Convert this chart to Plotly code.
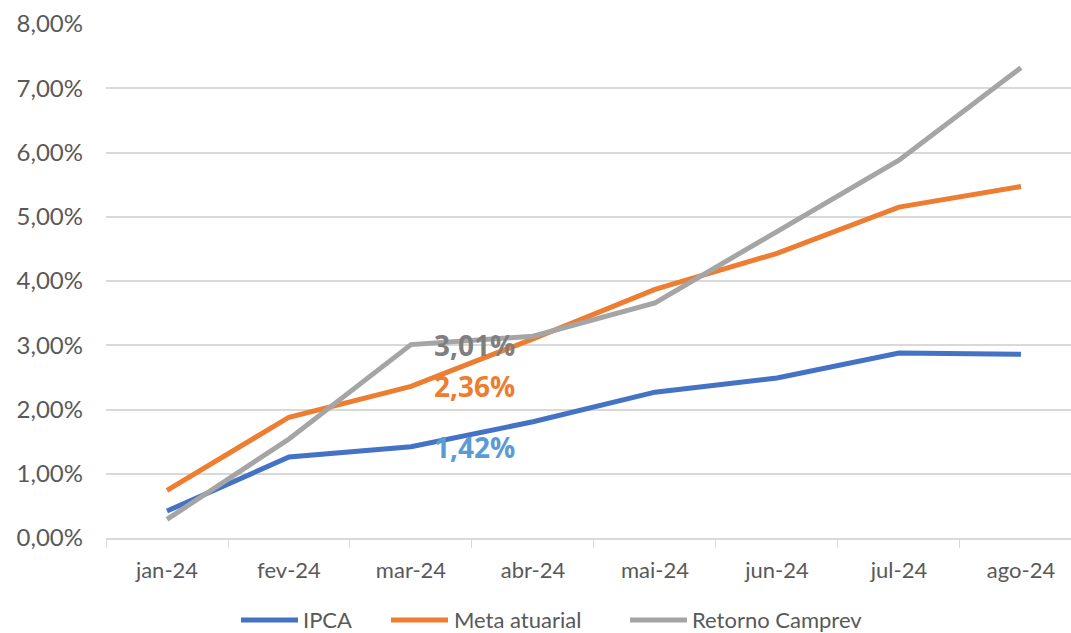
import plotly.graph_objects as go

months = ["jan-24", "fev-24", "mar-24", "abr-24", "mai-24", "jun-24", "jul-24", "ago-24"]
ipca = [0.42, 1.26, 1.42, 1.81, 2.27, 2.49, 2.88, 2.86]
meta = [0.74, 1.88, 2.36, 3.10, 3.87, 4.43, 5.15, 5.47]
retorno = [0.29, 1.54, 3.01, 3.14, 3.66, 4.76, 5.88, 7.32]

series = [
    ("IPCA", ipca, "#4472C4"),
    ("Meta atuarial", meta, "#ED7D31"),
    ("Retorno Camprev", retorno, "#A5A5A5"),
]

FONT = "Lato"
TXT = "#595959"

fig = go.Figure()
for name, vals, color in series:
    fig.add_trace(go.Scatter(
        x=months, y=vals, name=name, mode="lines",
        line=dict(color=color, width=5), showlegend=False,
    ))

labels = [
    (retorno[2], "#7F7F7F"),
    (meta[2], "#ED7D31"),
    (ipca[2], "#5B9BD5"),
]
for val, color in labels:
    fig.add_annotation(
        x=months[2], y=val, text=f"{val:.2f}".replace(".", ",") + "%",
        showarrow=False, xshift=64,
        font=dict(family="Open Sans", size=28, color=color, weight="bold"),
    )

# custom legend (paper coordinates)
plot_l, plot_w, plot_b, plot_h = 106, 965, 538, 514
leg_y = (plot_b - 620) / plot_h
leg_items = [(241, 301), (391, 452), (630, 690)]
for (name, vals, color), (lx, tx) in zip(series, leg_items):
    fig.add_shape(type="line", xref="paper", yref="paper",
                  x0=(lx - plot_l) / plot_w, x1=(lx + 57 - plot_l) / plot_w,
                  y0=leg_y, y1=leg_y, line=dict(color=color, width=5))
    fig.add_annotation(xref="paper", yref="paper", x=(tx - plot_l) / plot_w, y=leg_y,
                       xanchor="left", yanchor="middle", text=name, showarrow=False,
                       font=dict(family=FONT, size=22, color=TXT))

fig.update_layout(
    width=1071, height=633,
    margin=dict(l=106, r=0, t=24, b=95),
    paper_bgcolor="white", plot_bgcolor="white",
    separators=",.",
    font=dict(family=FONT, color=TXT, size=22),
    showlegend=False,
    xaxis=dict(
        range=[-0.5, 7.41], tickson="boundaries", ticks="outside", ticklen=8,
        tickcolor="#d9d9d9", showline=True, linecolor="#d9d9d9", linewidth=1.5,
        showgrid=False, tickfont=dict(family=FONT, size=22, color=TXT),
        ticklabelstandoff=12, automargin=False,
    ),
    yaxis=dict(
        range=[0, 8], dtick=1, tickformat=".2f", ticksuffix="%",
        showgrid=True, gridcolor="#d9d9d9", gridwidth=1.5, zeroline=False,
        tickfont=dict(family=FONT, size=24, color=TXT), ticklabelstandoff=22,
        automargin=False,
    ),
)

fig.write_html("out.html", config={"displayModeBar": False},
               post_script="document.body.style.margin='0';document.body.style.overflow='hidden';")
